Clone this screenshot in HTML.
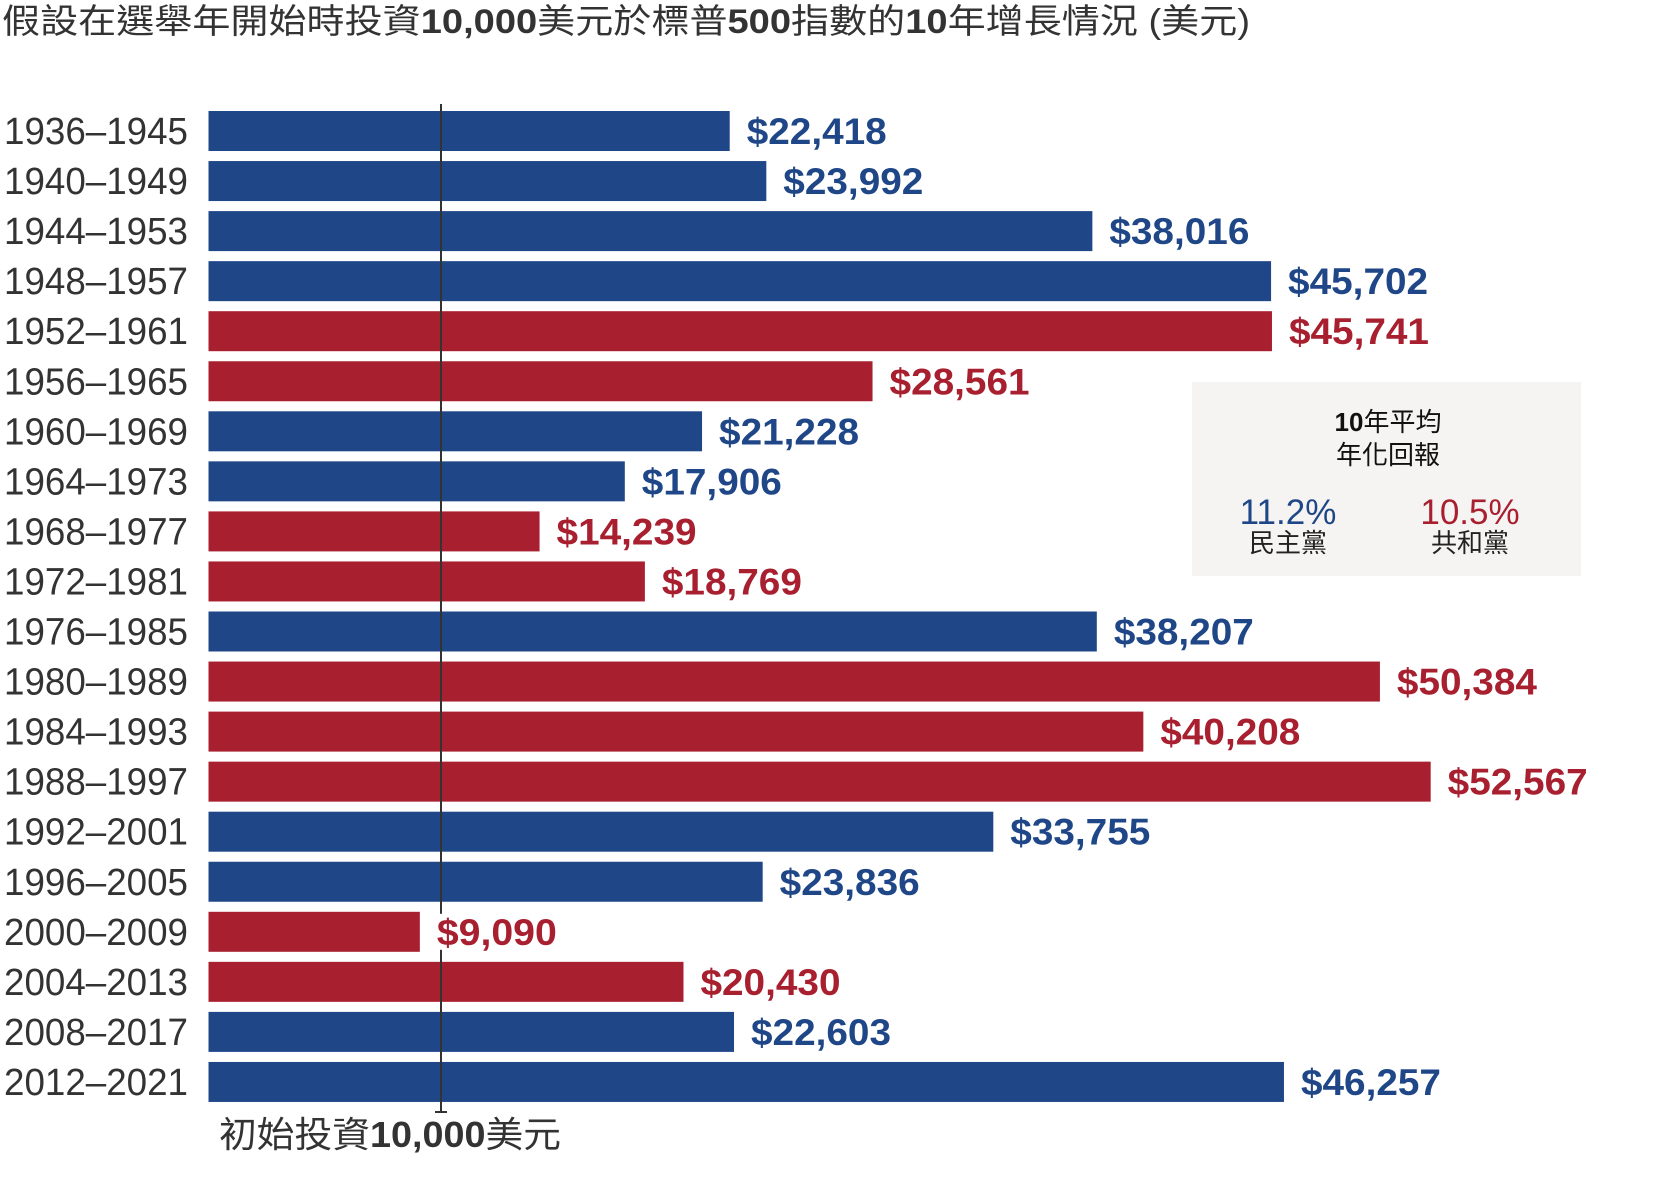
<!DOCTYPE html>
<html><head><meta charset="utf-8"><style>
html,body{margin:0;padding:0;background:#fff;}
svg{display:block;}
text{font-family:"Liberation Sans Narrow","Liberation Sans","Noto Sans CJK TC",sans-serif;}
</style></head><body>
<svg id="chart" width="1664" height="1200" viewBox="0 0 1664 1200" xmlns="http://www.w3.org/2000/svg">
<text x="2" y="33" font-size="34" fill="#333" textLength="1248" lengthAdjust="spacingAndGlyphs">假設在選舉年開始時投資<tspan font-weight="bold">10,000</tspan>美元於標普<tspan font-weight="bold">500</tspan>指數的<tspan font-weight="bold">10</tspan>年增長情況 (美元)</text>
<g id="bars"></g>
<line id="axisline" x1="441" x2="441" y1="104" y2="1113" stroke="#333" stroke-width="2"/>
<line x1="435" x2="447" y1="1112" y2="1112" stroke="#333" stroke-width="2"/>
<g id="vals"></g>
<text x="219" y="1147" font-size="36" fill="#333" textLength="342" lengthAdjust="spacingAndGlyphs">初始投資<tspan font-weight="bold">10,000</tspan>美元</text>
<g>
<rect x="1192" y="382" width="389" height="194" fill="#f5f4f2"/>
<text x="1388" y="431" font-size="26" text-anchor="middle" fill="#111" font-family="Liberation Sans, Noto Sans CJK TC, sans-serif"><tspan font-weight="bold">10</tspan>年平均</text>
<text x="1388" y="464" font-size="26" text-anchor="middle" fill="#111" font-family="Liberation Sans, Noto Sans CJK TC, sans-serif">年化回報</text>
<text x="1288" y="524" font-size="35" text-anchor="middle" fill="#1f4788" font-family="Liberation Sans, sans-serif">11.2%</text>
<text x="1288" y="552" font-size="26" text-anchor="middle" fill="#222" font-family="Liberation Sans, Noto Sans CJK TC, sans-serif">民主黨</text>
<text x="1470" y="524" font-size="35" text-anchor="middle" fill="#a8202f" font-family="Liberation Sans, sans-serif">10.5%</text>
<text x="1470" y="552" font-size="26" text-anchor="middle" fill="#222" font-family="Liberation Sans, Noto Sans CJK TC, sans-serif">共和黨</text>
</g>
</svg>
<script>
const categories = ["1936–1945","1940–1949","1944–1953","1948–1957","1952–1961","1956–1965","1960–1969","1964–1973","1968–1977","1972–1981","1976–1985","1980–1989","1984–1993","1988–1997","1992–2001","1996–2005","2000–2009","2004–2013","2008–2017","2012–2021"];
const values = [22418,23992,38016,45702,45741,28561,21228,17906,14239,18769,38207,50384,40208,52567,33755,23836,9090,20430,22603,46257];
const parties = ["D","D","D","D","R","R","D","D","R","R","D","R","R","R","D","D","R","R","D","D"];
const valueLabels = ["$22,418","$23,992","$38,016","$45,702","$45,741","$28,561","$21,228","$17,906","$14,239","$18,769","$38,207","$50,384","$40,208","$52,567","$33,755","$23,836","$9,090","$20,430","$22,603","$46,257"];

const NS="http://www.w3.org/2000/svg";
const x0=208.5, k=(441-208.5)/10000;
function xScale(v){return x0+v*k;}
function yScale(i){return 111+i*50.05;}
const barsG=document.getElementById('bars'), valsG=document.getElementById('vals');
const svg=document.getElementById('chart');
categories.forEach((c,i)=>{
  const col=parties[i]==="D"?"#1f4788":"#a8202f";
  const y=yScale(i);
  const r=document.createElementNS(NS,'rect');
  
  
  r.setAttribute('x',x0);r.setAttribute('y',y);
  r.setAttribute('width',xScale(values[i])-x0);r.setAttribute('height',40);
  r.setAttribute('fill',col);
  barsG.appendChild(r);
  const t=document.createElementNS(NS,'text');
  
  
  t.setAttribute('x',4);t.setAttribute('y',y+33);
  t.setAttribute('font-size','38');t.setAttribute('fill','#333');
  t.setAttribute('textLength','184');t.setAttribute('lengthAdjust','spacingAndGlyphs');
  t.textContent=c;
  svg.appendChild(t);
  const vx=xScale(values[i])+17;
  const bg=document.createElementNS(NS,'rect');
  
  
  bg.setAttribute('x',vx-4);bg.setAttribute('y',y+2);
  bg.setAttribute('width',valueLabels[i].length*20+4);bg.setAttribute('height',36);
  bg.setAttribute('fill','#fff');
  valsG.appendChild(bg);
  const v=document.createElementNS(NS,'text');
  
  
  v.setAttribute('x',vx);v.setAttribute('y',y+33);
  v.setAttribute('font-size','37');v.setAttribute('font-weight','bold');
  v.setAttribute('fill',col);
  v.setAttribute('textLength',valueLabels[i].length*20);v.setAttribute('lengthAdjust','spacingAndGlyphs');
  v.setAttribute('font-family','Liberation Sans, sans-serif');
  v.textContent=valueLabels[i];
  valsG.appendChild(v);
});
</script>
</body></html>
